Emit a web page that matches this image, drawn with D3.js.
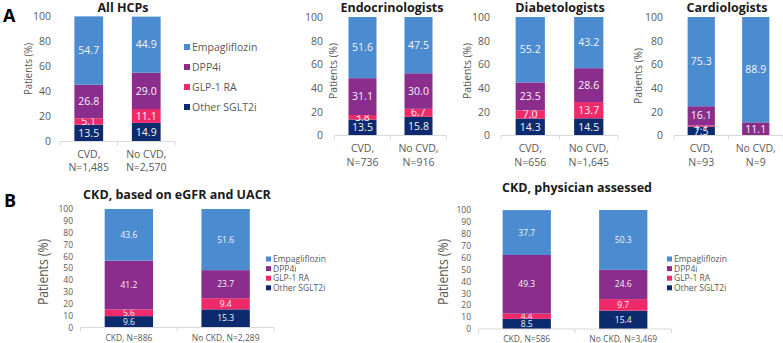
<!DOCTYPE html>
<html>
<head>
<meta charset="utf-8">
<script src="https://cdn.jsdelivr.net/npm/d3@7"></script>
<style>
  body { margin: 0; background: #fff; }
  svg { font-family: "Open Sans", sans-serif; }
</style>
</head>
<body>
<div id="chart"></div>
<script>
// drug classes, stacked bottom to top
const drugs = ["Other SGLT2i", "GLP-1 RA", "DPP4i", "Empagliflozin"];
const drugColors = ["#0c2b6e", "#ef2a6a", "#8b2d8c", "#4b8bd0"];

// panel A: CVD vs no CVD
const cvdCats = ["CVD,", "No CVD,"];
const allHcpN = ["N=1,485", "N=2,570"];
const allHcpVals = [[13.5, 5.1, 26.8, 54.7], [14.9, 11.1, 29.0, 44.9]];
const endoN = ["N=736", "N=916"];
const endoVals = [[13.5, 3.8, 31.1, 51.6], [15.8, 6.7, 30.0, 47.5]];
const diabN = ["N=656", "N=1,645"];
const diabVals = [[14.3, 7.0, 23.5, 55.2], [14.5, 13.7, 28.6, 43.2]];
const cardioN = ["N=93", "N=9"];
const cardioVals = [[7.5, 1.1, 16.1, 75.3], [0, 0, 11.1, 88.9]];
const ticksA = [0, 20, 40, 60, 80, 100];

// panel B: CKD
const egfrCats = ["CKD, N=886", "No CKD, N=2,289"];
const egfrVals = [[9.6, 5.6, 41.2, 43.6], [15.3, 9.4, 23.7, 51.6]];
const physCats = ["CKD, N=586", "No CKD, N=3,469"];
const physVals = [[8.5, 4.4, 49.3, 37.7], [15.4, 9.7, 24.6, 50.3]];
const ticksB = [0, 10, 20, 30, 40, 50, 60, 70, 80, 90, 100];

const svg = d3.select("#chart").append("svg")
  .attr("width", 783)
  .attr("height", 343);

const grey = "#595959";

function drawChart(o) {
  const x = d3.scaleBand().domain(o.cats).range(o.xr).paddingInner(0.5).paddingOuter(0.25);
  const y = d3.scaleLinear().domain([0, 100]).range(o.yr);
  const g = svg.append("g");

  // stacked bars
  o.vals.forEach((v, i) => {
    let base = 0;
    v.forEach((val, j) => {
      if (val > 0) {
        g.append("rect")
          .attr("x", x(o.cats[i]))
          .attr("width", x.bandwidth())
          .attr("y", y(base + val))
          .attr("height", y(base) - y(base + val))
          .attr("fill", drugColors[j]);
        g.append("text")
          .attr("x", x(o.cats[i]) + x.bandwidth() / 2)
          .attr("y", y(base + val / 2))
          .attr("dy", "0.35em")
          .attr("text-anchor", "middle")
          .attr("fill", "#f4f4f4")
          .style("font-size", o.labelSize + "px")
          .text(val.toFixed(1));
      }
      base += val;
    });
  });

  // y axis
  const yAxis = g.append("g")
    .attr("transform", `translate(${o.tickRight},0)`)
    .call(d3.axisLeft(y).tickValues(o.ticks).tickSize(0).tickPadding(0));
  yAxis.select(".domain").remove();
  yAxis.selectAll("text").attr("fill", grey).style("font-size", o.tickSize + "px")
    .style("font-family", "Open Sans, sans-serif");

  // baseline with category separators
  const r = x.range();
  const mid = (x(o.cats[0]) + x.bandwidth() + x(o.cats[1])) / 2;
  g.append("line").attr("x1", r[0]).attr("x2", r[1]).attr("y1", y(0)).attr("y2", y(0))
    .attr("stroke", "#d9d9d9");
  [r[0], mid, r[1]].forEach(xx => {
    g.append("line").attr("x1", xx).attr("x2", xx).attr("y1", y(0)).attr("y2", y(0) + 4)
      .attr("stroke", "#d9d9d9");
  });

  // category labels
  o.cats.forEach((c, i) => {
    const t = g.append("text")
      .attr("text-anchor", "middle")
      .attr("fill", grey)
      .style("font-size", o.catSize + "px");
    const cx = x(c) + x.bandwidth() / 2;
    if (o.sub) {
      t.append("tspan").attr("x", cx).attr("y", o.catY).text(c);
      t.append("tspan").attr("x", cx).attr("y", o.catY + o.catGap).text(o.sub[i]);
    } else {
      t.attr("x", cx).attr("y", o.catY).text(c);
    }
  });

  // y title
  g.append("text")
    .attr("transform", `translate(${o.yTitle[0]},${o.yTitle[1]}) rotate(-90)`)
    .attr("text-anchor", "middle")
    .attr("fill", grey)
    .style("font-size", o.yTitleSize + "px")
    .attr("textLength", o.yTitleLen)
    .attr("lengthAdjust", "spacingAndGlyphs")
    .text("Patients (%)");

  // chart title
  g.append("text")
    .attr("x", o.title[1]).attr("y", o.title[2])
    .attr("text-anchor", "middle")
    .style("font-size", o.titleSize + "px")
    .style("font-weight", "bold")
    .attr("fill", "#1a1a1a")
    .text(o.title[0]);

  // legend
  if (o.legend) {
    const [lx, ly, gap, sq, fs] = o.legend;
    drugs.slice().reverse().forEach((d, k) => {
      const j = drugs.length - 1 - k;
      g.append("rect").attr("x", lx).attr("y", ly + k * gap - sq / 2)
        .attr("width", sq).attr("height", sq).attr("fill", drugColors[j]);
      g.append("text").attr("x", lx + sq + 2).attr("y", ly + k * gap).attr("dy", "0.35em")
        .attr("fill", grey).style("font-size", fs + "px").text(d);
    });
  }
}

drawChart({ cats: cvdCats, sub: allHcpN, vals: allHcpVals, xr: [60, 175], yr: [141.5, 16.5],
  ticks: ticksA, tickRight: 51, tickSize: 10.5, labelSize: 10.5, catY: 158, catGap: 13, catSize: 10.5,
  yTitle: [32, 69], yTitleSize: 10.5, yTitleLen: 52, title: ["All HCPs", 123, 12], titleSize: 12.5,
  legend: [184, 47, 20, 6, 10.5] });
drawChart({ cats: cvdCats, sub: endoN, vals: endoVals, xr: [334.5, 446.5], yr: [135.5, 17],
  ticks: ticksA, tickRight: 323, tickSize: 10.5, labelSize: 10.5, catY: 152, catGap: 14, catSize: 10.5,
  yTitle: [337, 71], yTitleSize: 10.5, yTitleLen: 56, title: ["Endocrinologists", 392, 12], titleSize: 12.5 });
drawChart({ cats: cvdCats, sub: diabN, vals: diabVals, xr: [501, 618], yr: [135.5, 17],
  ticks: ticksA, tickRight: 490, tickSize: 10.5, labelSize: 10.5, catY: 152, catGap: 14, catSize: 10.5,
  yTitle: [471, 71], yTitleSize: 10.5, yTitleLen: 56, title: ["Diabetologists", 560, 12], titleSize: 12.5 });
drawChart({ cats: cvdCats, sub: cardioN, vals: cardioVals, xr: [674, 783], yr: [135.5, 17],
  ticks: ticksA, tickRight: 663, tickSize: 10.5, labelSize: 10.5, catY: 152, catGap: 14, catSize: 10.5,
  yTitle: [642, 76], yTitleSize: 10.5, yTitleLen: 56, title: ["Cardiologists", 727, 12], titleSize: 12.5 });

drawChart({ cats: egfrCats, vals: egfrVals, xr: [80.5, 274], yr: [327.5, 209],
  ticks: ticksB, tickRight: 73, tickSize: 8.5, labelSize: 8.5, catY: 341, catSize: 8.5,
  yTitle: [48, 272], yTitleSize: 14, yTitleLen: 66, title: ["CKD, based on eGFR and UACR", 177, 199], titleSize: 12.5,
  legend: [266, 259, 9.6, 5, 8.5] });
drawChart({ cats: physCats, vals: physVals, xr: [478.5, 671.5], yr: [329, 210],
  ticks: ticksB, tickRight: 471, tickSize: 8.5, labelSize: 8.5, catY: 342, catSize: 8.5,
  yTitle: [448, 272], yTitleSize: 14, yTitleLen: 66, title: ["CKD, physician assessed", 577, 192], titleSize: 12.5,
  legend: [667, 259, 9.6, 5, 8.5] });

// panel letters
svg.append("text").attr("x", 3).attr("y", 22).style("font-size", "18px").style("font-weight", "bold").text("A");
svg.append("text").attr("x", 4).attr("y", 207).style("font-size", "18px").style("font-weight", "bold").text("B");
</script>
</body>
</html>
